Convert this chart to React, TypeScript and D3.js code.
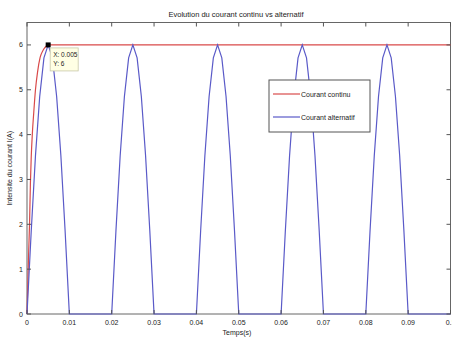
import React, { useRef, useEffect } from 'react';
import * as d3 from 'd3';

// tick labels as shown on the axes
const xTicks = [0, 0.01, 0.02, 0.03, 0.04, 0.05, 0.06, 0.07, 0.08, 0.09, 0.1];
const xTickLabels = ['0', '0.01', '0.02', '0.03', '0.04', '0.05', '0.06', '0.07', '0.08', '0.09', '0.1'];
const yTicks = [0, 1, 2, 3, 4, 5, 6];

// courant continu (red)
const contTime = [0, 0.0002, 0.0004, 0.0006, 0.0008, 0.001, 0.00125, 0.0016, 0.002, 0.0025, 0.0031, 0.0038, 0.0044, 0.005, 0.1];
const contValues = [0, 0.7, 1.4, 2.0, 2.9, 3.5, 4.0, 4.5, 5.0, 5.4, 5.72, 5.88, 5.96, 6, 6];

// courant alternatif (blue), one sample every 0.001 s
const altStep = 0.001;
const altValues = [
    0, 1.85, 3.53, 4.85, 5.71, 6, 5.71, 4.85, 3.53, 1.85,
    0, 0, 0, 0, 0, 0, 0, 0, 0, 0,
    0, 1.85, 3.53, 4.85, 5.71, 6, 5.71, 4.85, 3.53, 1.85,
    0, 0, 0, 0, 0, 0, 0, 0, 0, 0,
    0, 1.85, 3.53, 4.85, 5.71, 6, 5.71, 4.85, 3.53, 1.85,
    0, 0, 0, 0, 0, 0, 0, 0, 0, 0,
    0, 1.85, 3.53, 4.85, 5.71, 6, 5.71, 4.85, 3.53, 1.85,
    0, 0, 0, 0, 0, 0, 0, 0, 0, 0,
    0, 1.85, 3.53, 4.85, 5.71, 6, 5.71, 4.85, 3.53, 1.85,
    0, 0, 0, 0, 0, 0, 0, 0, 0, 0,
    0,
];

// data tip
const tipX = 0.005;
const tipY = 6;

const seriesNames = ['Courant continu', 'Courant alternatif'];
const seriesColors = ['#d94a4a', '#5a5ac8'];

function Chart() {
    const ref = useRef<SVGSVGElement>(null);

    useEffect(() => {
        const svg = d3.select(ref.current);
        svg.selectAll('*').remove();

        const left = 27, right = 450.5, top = 22.5, bottom = 314;
        const font = 'Arial, "Liberation Sans", sans-serif';

        const x = d3.scaleLinear().domain([0, 0.1]).range([left, right]);
        const y = d3.scaleLinear().domain([0, 6.5]).range([bottom, top]);

        // title
        svg.append('text')
            .attr('x', 236)
            .attr('y', 16.5)
            .attr('text-anchor', 'middle')
            .attr('font-family', font)
            .attr('font-size', 7.5)
            .attr('fill', '#222')
            .text('Evolution du courant continu vs alternatif');

        // axes box
        svg.append('rect')
            .attr('x', left)
            .attr('y', top)
            .attr('width', right - left)
            .attr('height', bottom - top)
            .attr('fill', '#fff')
            .attr('stroke', '#666')
            .attr('stroke-width', 1);

        const plot = svg.append('g');
        plot.append('clipPath').attr('id', 'clip')
            .append('rect')
            .attr('x', left).attr('y', top - 2)
            .attr('width', right - left).attr('height', bottom - top + 2);

        const line = d3.line<[number, number]>()
            .x((d) => x(d[0]))
            .y((d) => y(d[1]));

        const contData: [number, number][] = contTime.map((t, i) => [t, contValues[i]]);
        const altData: [number, number][] = altValues.map((v, i) => [i * altStep, v]);

        plot.append('path')
            .attr('d', line.curve(d3.curveMonotoneX)(contData))
            .attr('fill', 'none')
            .attr('stroke', seriesColors[0])
            .attr('stroke-width', 1.2);

        plot.append('path')
            .attr('d', line.curve(d3.curveLinear)(altData))
            .attr('fill', 'none')
            .attr('stroke', seriesColors[1])
            .attr('stroke-width', 1.2);

        // ticks, inward on all four sides
        const tk = 4;
        const ticks = svg.append('g').attr('stroke', '#555').attr('stroke-width', 1);
        xTicks.forEach((t) => {
            ticks.append('line').attr('x1', x(t)).attr('x2', x(t)).attr('y1', bottom).attr('y2', bottom - tk);
            ticks.append('line').attr('x1', x(t)).attr('x2', x(t)).attr('y1', top).attr('y2', top + tk);
        });
        yTicks.forEach((t) => {
            ticks.append('line').attr('x1', left).attr('x2', left + tk).attr('y1', y(t)).attr('y2', y(t));
            ticks.append('line').attr('x1', right).attr('x2', right - tk).attr('y1', y(t)).attr('y2', y(t));
        });

        svg.append('g')
            .selectAll('text')
            .data(xTicks)
            .enter()
            .append('text')
            .attr('x', (d) => x(d))
            .attr('y', bottom + 10.5)
            .attr('text-anchor', 'middle')
            .attr('font-family', font)
            .attr('font-size', 7)
            .attr('fill', '#222')
            .text((d, i) => xTickLabels[i]);

        svg.append('g')
            .selectAll('text')
            .data(yTicks)
            .enter()
            .append('text')
            .attr('x', left - 4)
            .attr('y', (d) => y(d) + 2.5)
            .attr('text-anchor', 'end')
            .attr('font-family', font)
            .attr('font-size', 7)
            .attr('fill', '#222')
            .text((d) => String(d));

        svg.append('text')
            .attr('x', 237)
            .attr('y', 335)
            .attr('text-anchor', 'middle')
            .attr('font-family', font)
            .attr('font-size', 7)
            .attr('fill', '#222')
            .text('Temps(s)');

        svg.append('text')
            .attr('transform', 'translate(12,' + (top + bottom) / 2 + ') rotate(-90)')
            .attr('text-anchor', 'middle')
            .attr('font-family', font)
            .attr('font-size', 7)
            .attr('fill', '#222')
            .text('Intensite du courant I(A)');

        // data tip
        svg.append('rect')
            .attr('x', x(tipX) - 2.5)
            .attr('y', y(tipY) - 2.5)
            .attr('width', 5)
            .attr('height', 5)
            .attr('fill', '#000');
        const tip = svg.append('g').attr('transform', 'translate(' + (x(tipX) + 2) + ',' + (y(tipY) + 3) + ')');
        tip.append('rect')
            .attr('width', 28)
            .attr('height', 23)
            .attr('fill', '#ffffe4')
            .attr('stroke', '#c8c8a8')
            .attr('stroke-width', 0.8);
        tip.append('text')
            .attr('x', 3)
            .attr('y', 9)
            .attr('font-family', font)
            .attr('font-size', 6.5)
            .attr('fill', '#222')
            .text('X: ' + tipX);
        tip.append('text')
            .attr('x', 3)
            .attr('y', 18)
            .attr('font-family', font)
            .attr('font-size', 6.5)
            .attr('fill', '#222')
            .text('Y: ' + tipY);

        // legend
        const lg = svg.append('g').attr('transform', 'translate(269,80)');
        lg.append('rect')
            .attr('width', 101)
            .attr('height', 52)
            .attr('fill', '#fff')
            .attr('stroke', '#555')
            .attr('stroke-width', 1);
        seriesNames.forEach((name, i) => {
            const ly = 14 + i * 23;
            lg.append('line')
                .attr('x1', 4).attr('x2', 31)
                .attr('y1', ly).attr('y2', ly)
                .attr('stroke', seriesColors[i])
                .attr('stroke-width', 1.2);
            lg.append('text')
                .attr('x', 32)
                .attr('y', ly + 2.5)
                .attr('font-family', font)
                .attr('font-size', 7)
                .attr('fill', '#222')
                .text(name);
        });
    }, []);

    return (
        <svg ref={ref} width={452} height={338} style={{ position: 'absolute', left: 0, top: 0, background: '#fff' }} />
    );
}

export default function App() {
    return <Chart />;
}
